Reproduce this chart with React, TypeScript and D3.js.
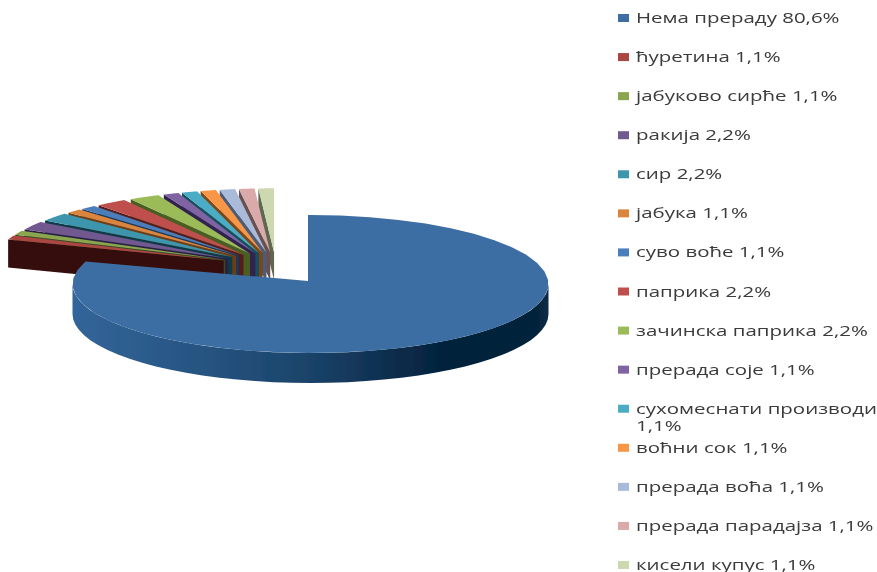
import React from "react";
import * as d3 from "d3";

const labels = ["Нема прераду","ћуретина","јабуково сирће","ракија","сир","јабука","суво воће","паприка","зачинска паприка","прерада соје","сухомеснати производи","воћни сок","прерада воћа","прерада парадајза","кисели купус"];
const values = [80.6,1.1,1.1,2.2,2.2,1.1,1.1,2.2,2.2,1.1,1.1,1.1,1.1,1.1,1.1];
const valueLabels = ["80,6%","1,1%","1,1%","2,2%","2,2%","1,1%","1,1%","2,2%","2,2%","1,1%","1,1%","1,1%","1,1%","1,1%","1,1%"];
const topColors = ["#3e6ea3","#aa4643","#89a54e","#71588f","#3d96ae","#db843d","#4a7ebb","#bf504d","#9bbb59","#8064a2","#4bacc6","#f79646","#aabbda","#d9aaa9","#cbd8b0"];
const wallColors = ["#0e2a45","#350f0e","#3c4a1e","#2c1f42","#0b3a48","#6e3d12","#163a5c","#571f1d","#4a5e22","#33214f","#12505f","#7c4715","#4c5c78","#6b5050","#5d6850"];
const gradientStops = [[0,"#33659a"],[0.3,"#25527e"],[0.5,"#1a4369"],[0.68,"#0c2c4c"],[0.8,"#01213a"],[0.97,"#01213a"],[1,"#0e2c48"]];

const W = 877, H = 572;
const cx = 310.5, cy = 284, rx = 238, ry = 69, depth = 30;
const x0 = 276, y0 = 265, ex = 56, ey = 12.7, sRx = 228, sRy = 64, sliceDepth = 28;

const arcs = d3.pie<number>().sort(null).startAngle(0).endAngle(2 * Math.PI)(values);
const line = d3.line();
const ring = (ax: number, ay: number, a0: number, a1: number, rX: number, rY: number): [number, number][] =>
  d3.range(0, 41).map((i) => {
    const a = a0 + ((a1 - a0) * i) / 40;
    return [ax + rX * Math.sin(a), ay - rY * Math.cos(a)];
  });

const legendY = d3.scaleLinear().domain([0, 14]).range([18, 565]);

export default function App() {
  const main = arcs[0];
  const rest = arcs.slice(1);
  const topMain = line([[308, 281], [308, 215], ...ring(cx, cy, main.startAngle, main.endAngle, rx, ry)]) + "Z";
  const rimFront = ring(cx, cy, Math.PI / 2, Math.min(main.endAngle, 1.5 * Math.PI), rx, ry);
  const rimPath = line([...rimFront, ...rimFront.slice().reverse().map(([x, y]) => [x, y + depth] as [number, number])]) + "Z";
  return (
    <svg width={W} height={H} style={{ position: "fixed", left: 0, top: 0, background: "#fff" }}>
      <defs>
        <linearGradient id="rim" gradientUnits="userSpaceOnUse" x1={cx - rx} x2={cx + rx} y1="0" y2="0">
          {gradientStops.map(([o, c]) => <stop key={String(o)} offset={o as number} stopColor={c as string} />)}
        </linearGradient>
        <filter id="soft" x="-5%" y="-5%" width="110%" height="110%"><feGaussianBlur stdDeviation="0.45" /></filter>
      </defs>
      <g filter="url(#soft)">
        {rest.slice().reverse().map((d) => {
          const mid = (d.startAngle + d.endAngle) / 2;
          const ax = x0 + ex * Math.sin(mid), ay = y0 - ey * Math.cos(mid);
          const pts = ring(ax, ay, d.startAngle, d.endAngle, sRx, sRy);
          const first = pts[0];
          const wall = line([[ax, ay], first, [first[0], first[1] + sliceDepth], [ax, ay + sliceDepth]]) + "Z";
          return (
            <g key={d.index}>
              <path d={wall} fill={wallColors[d.index]} />
              <path d={line([[ax, ay], ...pts]) + "Z"} fill={topColors[d.index]} />
            </g>
          );
        })}
        <path d={rimPath} fill="url(#rim)" />
        <path d={topMain} fill={topColors[0]} />
      </g>
      <g filter="url(#soft)" fontFamily="'Open Sans', sans-serif" fontSize="15" fill="#3a3a3a">
        {labels.map((l, i) => {
          const y = legendY(i);
          const wrapped = l.length > 20;
          return (
            <g key={l}>
              <rect x={618} y={y - 4} width={11} height={8} fill={topColors[i]} />
              <g transform={`translate(636,${y + 5}) scale(1.365,1)`}>
                <text>{wrapped ? l : `${l} ${valueLabels[i]}`}</text>
                {wrapped && <text y={17}>{valueLabels[i]}</text>}
              </g>
            </g>
          );
        })}
      </g>
    </svg>
  );
}
